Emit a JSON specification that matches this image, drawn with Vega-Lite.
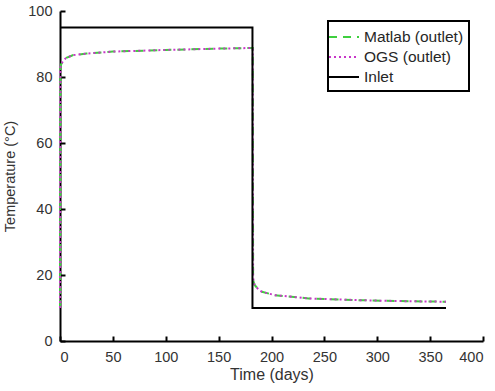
{
  "$schema": "https://vega.github.io/schema/vega-lite/v6.json",
  "autosize": "none",
  "width": 423,
  "height": 330,
  "padding": {"left": 60, "top": 11, "right": 12, "bottom": 50},
  "config": {
    "view": {"stroke": null},
    "font": "Liberation Sans",
    "axis": {
      "grid": false,
      "domainColor": "#000000",
      "domainWidth": 2,
      "ticks": true,
      "tickColor": "#000000",
      "tickWidth": 2,
      "tickSize": -5,
      "labelFontSize": 14.5,
      "labelColor": "#333333",
      "titleFontWeight": "normal",
      "titleColor": "#333333"
    },
    "legend": {"strokeWidth": 2}
  },
  "data": {"values": [
    {"series": "Matlab (outlet)", "t": 0, "v": 10}, {"series": "Matlab (outlet)", "t": 0.3, "v": 83}, {"series": "Matlab (outlet)", "t": 1, "v": 83.8}, {"series": "Matlab (outlet)", "t": 2, "v": 84.3},
    {"series": "Matlab (outlet)", "t": 3, "v": 85}, {"series": "Matlab (outlet)", "t": 6, "v": 85.8}, {"series": "Matlab (outlet)", "t": 12, "v": 86.6}, {"series": "Matlab (outlet)", "t": 25, "v": 87.1},
    {"series": "Matlab (outlet)", "t": 50, "v": 87.7}, {"series": "Matlab (outlet)", "t": 100, "v": 88.2}, {"series": "Matlab (outlet)", "t": 150, "v": 88.6}, {"series": "Matlab (outlet)", "t": 182.3, "v": 88.8},
    {"series": "Matlab (outlet)", "t": 182.6, "v": 20}, {"series": "Matlab (outlet)", "t": 183, "v": 18}, {"series": "Matlab (outlet)", "t": 184, "v": 17}, {"series": "Matlab (outlet)", "t": 188, "v": 15.5},
    {"series": "Matlab (outlet)", "t": 191, "v": 14.9}, {"series": "Matlab (outlet)", "t": 203, "v": 13.9}, {"series": "Matlab (outlet)", "t": 235, "v": 12.9}, {"series": "Matlab (outlet)", "t": 280, "v": 12.4},
    {"series": "Matlab (outlet)", "t": 320, "v": 12.1}, {"series": "Matlab (outlet)", "t": 365, "v": 11.9},
    {"series": "OGS (outlet)", "t": 0, "v": 10}, {"series": "OGS (outlet)", "t": 0.3, "v": 83}, {"series": "OGS (outlet)", "t": 1, "v": 83.8}, {"series": "OGS (outlet)", "t": 2, "v": 84.3},
    {"series": "OGS (outlet)", "t": 3, "v": 85}, {"series": "OGS (outlet)", "t": 6, "v": 85.8}, {"series": "OGS (outlet)", "t": 12, "v": 86.6}, {"series": "OGS (outlet)", "t": 25, "v": 87.1},
    {"series": "OGS (outlet)", "t": 50, "v": 87.7}, {"series": "OGS (outlet)", "t": 100, "v": 88.2}, {"series": "OGS (outlet)", "t": 150, "v": 88.6}, {"series": "OGS (outlet)", "t": 182.3, "v": 88.8},
    {"series": "OGS (outlet)", "t": 182.6, "v": 20}, {"series": "OGS (outlet)", "t": 183, "v": 18}, {"series": "OGS (outlet)", "t": 184, "v": 17}, {"series": "OGS (outlet)", "t": 188, "v": 15.5},
    {"series": "OGS (outlet)", "t": 191, "v": 14.9}, {"series": "OGS (outlet)", "t": 203, "v": 13.9}, {"series": "OGS (outlet)", "t": 235, "v": 12.9}, {"series": "OGS (outlet)", "t": 280, "v": 12.4},
    {"series": "OGS (outlet)", "t": 320, "v": 12.1}, {"series": "OGS (outlet)", "t": 365, "v": 11.9},
    {"series": "Inlet", "t": 0, "v": 95},
    {"series": "Inlet", "t": 182, "v": 95},
    {"series": "Inlet", "t": 182, "v": 10},
    {"series": "Inlet", "t": 365, "v": 10}
  ]},
  "mark": {"type": "line", "strokeWidth": 2},
  "encoding": {
    "x": {"field": "t", "type": "quantitative", "scale": {"domain": [0, 400], "nice": false},
      "axis": {"title": "Time (days)", "values": [0,50,100,150,200,250,300,350,400], "titlePadding": 3, "titleFontSize": 16, "labelPadding": 14}},
    "y": {"field": "v", "type": "quantitative", "scale": {"domain": [0, 100], "nice": false},
      "axis": {"title": "Temperature (°C)", "values": [0,20,40,60,80,100], "titlePadding": 10, "titleFontSize": 14.5, "labelPadding": 13}},
    "color": {
      "field": "series", "type": "nominal",
      "scale": {"domain": ["Matlab (outlet)", "OGS (outlet)", "Inlet"], "range": ["#3ecf3e", "#c837c8", "#000000"]},
      "legend": {
        "title": null, "orient": "none", "legendX": 268, "legendY": 10,
        "strokeColor": "#000000", "padding": 5, "symbolType": "M-1.5,0H1.5",
        "symbolSize": 400, "symbolStrokeWidth": 2, "symbolFillColor": "transparent", "labelFontSize": 15.5,
        "labelColor": "#262626", "labelOffset": 9, "rowPadding": 0
      }
    },
    "strokeDash": {
      "field": "series", "type": "nominal",
      "scale": {"domain": ["Matlab (outlet)", "OGS (outlet)", "Inlet"], "range": [[8, 6], [2, 3], [1, 0]]}
    }
  }
}
